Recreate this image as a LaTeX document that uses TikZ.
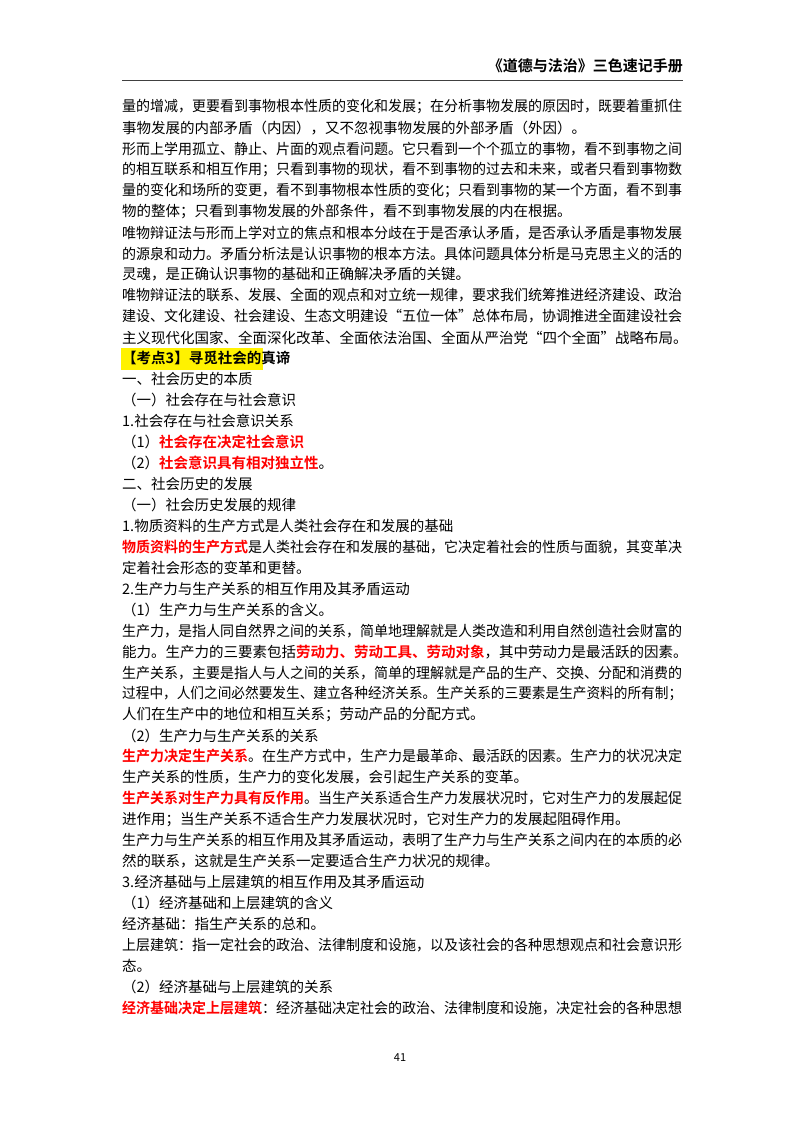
\documentclass[tikz,border=0pt]{standalone}
\usepackage{fontspec}
\usepackage{graphicx}
\setmainfont{Noto Sans CJK SC}[BoldFont={Noto Sans CJK SC Bold}]
\XeTeXlinebreaklocale "zh"
\XeTeXlinebreakskip=0pt plus 3pt
\newcommand\F[1]{\sbox0{#1}\ifdim\wd0>560pt\resizebox{560pt}{\height}{\usebox0}\else\makebox[560pt][s]{#1}\fi}
\newcommand\R[1]{{\color{red}\bfseries #1}}
\begin{document}
\begin{tikzpicture}[x=1pt,y=-1pt,
  ln/.style={anchor=west,inner sep=0pt,font=\fontsize{14.5}{16}\selectfont}]
\useasboundingbox (0,0) rectangle (800,1132);
\fill[white] (0,0) rectangle (800,1132);
\node[anchor=east,inner sep=0pt,font=\fontsize{15}{16}\selectfont\bfseries] (hd) at (683,66) {《道德与法治》三色速记手册};
\draw[line width=1pt,black!75] (122,80) -- (683,80);
\fill[yellow] (121,348) rectangle (263,370);
\def\L#1#2{\node[ln] (l#1) at (122,{107+20.95*#1}) {#2};}
\L{0}{\F{量的增减，更要看到事物根本性质的变化和发展；在分析事物发展的原因时，既要着重抓住}}
\L{1}{事物发展的内部矛盾（内因），又不忽视事物发展的外部矛盾（外因）。}
\L{2}{\F{形而上学用孤立、静止、片面的观点看问题。它只看到一个个孤立的事物，看不到事物之间}}
\L{3}{\F{的相互联系和相互作用；只看到事物的现状，看不到事物的过去和未来，或者只看到事物数}}
\L{4}{\F{量的变化和场所的变更，看不到事物根本性质的变化；只看到事物的某一个方面，看不到事}}
\L{5}{物的整体；只看到事物发展的外部条件，看不到事物发展的内在根据。}
\L{6}{\F{唯物辩证法与形而上学对立的焦点和根本分歧在于是否承认矛盾，是否承认矛盾是事物发展}}
\L{7}{\F{的源泉和动力。矛盾分析法是认识事物的根本方法。具体问题具体分析是马克思主义的活的}}
\L{8}{灵魂，是正确认识事物的基础和正确解决矛盾的关键。}
\L{9}{\F{唯物辩证法的联系、发展、全面的观点和对立统一规律，要求我们统筹推进经济建设、政治}}
\L{10}{\F{建设、文化建设、社会建设、生态文明建设“五位一体”总体布局，协调推进全面建设社会}}
\L{11}{主义现代化国家、全面深化改革、全面依法治国、全面从严治党“四个全面”战略布局。}
\L{12}{\bfseries 【考点3】寻觅社会的真谛}
\L{13}{一、社会历史的本质}
\L{14}{（一）社会存在与社会意识}
\L{15}{1.社会存在与社会意识关系}
\L{16}{（1）\R{社会存在决定社会意识}}
\L{17}{（2）\R{社会意识具有相对独立性}。}
\L{18}{二、社会历史的发展}
\L{19}{（一）社会历史发展的规律}
\L{20}{1.物质资料的生产方式是人类社会存在和发展的基础}
\L{21}{\F{\R{物质资料的生产方式}是人类社会存在和发展的基础，它决定着社会的性质与面貌，其变革决}}
\L{22}{定着社会形态的变革和更替。}
\L{23}{2.生产力与生产关系的相互作用及其矛盾运动}
\L{24}{（1）生产力与生产关系的含义。}
\L{25}{\F{生产力，是指人同自然界之间的关系，简单地理解就是人类改造和利用自然创造社会财富的}}
\L{26}{能力。生产力的三要素包括\R{劳动力、劳动工具、劳动对象}，其中劳动力是最活跃的因素。}
\L{27}{\F{生产关系，主要是指人与人之间的关系，简单的理解就是产品的生产、交换、分配和消费的}}
\L{28}{\F{过程中，人们之间必然要发生、建立各种经济关系。生产关系的三要素是生产资料的所有制；}}
\L{29}{人们在生产中的地位和相互关系；劳动产品的分配方式。}
\L{30}{（2）生产力与生产关系的关系}
\L{31}{\F{\R{生产力决定生产关系}。在生产方式中，生产力是最革命、最活跃的因素。生产力的状况决定}}
\L{32}{生产关系的性质，生产力的变化发展，会引起生产关系的变革。}
\L{33}{\F{\R{生产关系对生产力具有反作用}。当生产关系适合生产力发展状况时，它对生产力的发展起促}}
\L{34}{进作用；当生产关系不适合生产力发展状况时，它对生产力的发展起阻碍作用。}
\L{35}{\F{生产力与生产关系的相互作用及其矛盾运动，表明了生产力与生产关系之间内在的本质的必}}
\L{36}{然的联系，这就是生产关系一定要适合生产力状况的规律。}
\L{37}{3.经济基础与上层建筑的相互作用及其矛盾运动}
\L{38}{（1）经济基础和上层建筑的含义}
\L{39}{经济基础：指生产关系的总和。}
\L{40}{\F{上层建筑：指一定社会的政治、法律制度和设施，以及该社会的各种思想观点和社会意识形}}
\L{41}{态。}
\L{42}{（2）经济基础与上层建筑的关系}
\L{43}{\F{\R{经济基础决定上层建筑}：经济基础决定社会的政治、法律制度和设施，决定社会的各种思想}}
\node[font=\fontsize{11}{12}\selectfont,inner sep=0pt] (pg) at (400,1058) {41};
\end{tikzpicture}
\end{document}
